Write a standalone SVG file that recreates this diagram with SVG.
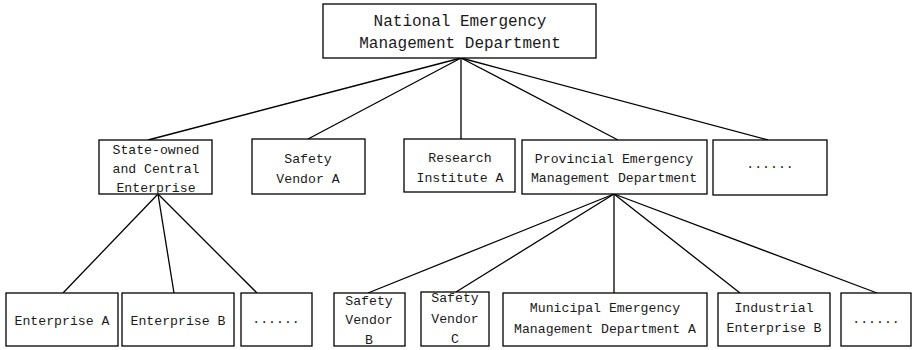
<svg xmlns="http://www.w3.org/2000/svg" width="912" height="350" viewBox="0 0 912 350">
  <style>
    .box { fill: #ffffff; stroke: #000000; stroke-width: 1.3; }
    .lbl { font-family: "Liberation Mono", "DejaVu Sans Mono", monospace; font-size: 13.2px; fill: #1a1a1a; text-anchor: middle; }
    .big { font-size: 16px; }
    .edge { stroke: #000000; stroke-width: 1.3; fill: none; }
  </style>

  <!-- tree connectors -->
  <g id="connectors">
    <line class="edge" x1="461" y1="58" x2="148" y2="140"/>
    <line class="edge" x1="461" y1="58" x2="308" y2="139"/>
    <line class="edge" x1="461" y1="58" x2="461" y2="139"/>
    <line class="edge" x1="461" y1="58" x2="618" y2="140"/>
    <line class="edge" x1="461" y1="58" x2="768" y2="140"/>

    <line class="edge" x1="158" y1="194" x2="63" y2="293"/>
    <line class="edge" x1="158" y1="194" x2="174" y2="293"/>
    <line class="edge" x1="158" y1="194" x2="257" y2="293"/>

    <line class="edge" x1="614" y1="194" x2="368" y2="293"/>
    <line class="edge" x1="614" y1="194" x2="456" y2="292"/>
    <line class="edge" x1="614" y1="194" x2="614" y2="293"/>
    <line class="edge" x1="614" y1="194" x2="740" y2="293"/>
    <line class="edge" x1="614" y1="194" x2="877" y2="293"/>
  </g>

  <g id="national">
    <rect class="box" x="323" y="4" width="273" height="54"/>
    <text class="lbl big" x="460" y="26">National Emergency</text>
    <text class="lbl big" x="460" y="48">Management Department</text>
  </g>

  <g id="state-owned">
    <rect class="box" x="99" y="140" width="113" height="54"/>
    <text class="lbl" x="156" y="154">State-owned</text>
    <text class="lbl" x="156" y="173">and Central</text>
    <text class="lbl" x="156" y="192">Enterprise</text>
  </g>

  <g id="safety-vendor-a">
    <rect class="box" x="252" y="139" width="113" height="55"/>
    <text class="lbl" x="308" y="163">Safety</text>
    <text class="lbl" x="308" y="183">Vendor A</text>
  </g>

  <g id="research-institute-a">
    <rect class="box" x="404" y="139" width="111" height="53"/>
    <text class="lbl" x="460" y="162">Research</text>
    <text class="lbl" x="460" y="182">Institute A</text>
  </g>

  <g id="provincial">
    <rect class="box" x="522" y="140" width="185" height="54"/>
    <text class="lbl" x="614" y="163">Provincial Emergency</text>
    <text class="lbl" x="614" y="182">Management Department</text>
  </g>

  <g id="more-level2">
    <rect class="box" x="713" y="140" width="114" height="55"/>
    <text class="lbl" x="770" y="168">......</text>
  </g>

  <g id="enterprise-a">
    <rect class="box" x="6" y="293" width="112" height="53"/>
    <text class="lbl" x="62" y="325">Enterprise A</text>
  </g>

  <g id="enterprise-b">
    <rect class="box" x="122" y="293" width="112" height="53"/>
    <text class="lbl" x="178" y="325">Enterprise B</text>
  </g>

  <g id="more-enterprises">
    <rect class="box" x="241" y="293" width="71" height="53"/>
    <text class="lbl" x="276" y="323">......</text>
  </g>

  <g id="safety-vendor-b">
    <rect class="box" x="334" y="293" width="71" height="53"/>
    <text class="lbl" x="369" y="305">Safety</text>
    <text class="lbl" x="369" y="324">Vendor</text>
    <text class="lbl" x="369" y="344">B</text>
  </g>

  <g id="safety-vendor-c">
    <rect class="box" x="421" y="292" width="68" height="54"/>
    <text class="lbl" x="455" y="302">Safety</text>
    <text class="lbl" x="455" y="323">Vendor</text>
    <text class="lbl" x="455" y="343">C</text>
  </g>

  <g id="municipal-a">
    <rect class="box" x="503" y="293" width="204" height="53"/>
    <text class="lbl" x="605" y="312">Municipal Emergency</text>
    <text class="lbl" x="605" y="333">Management Department A</text>
  </g>

  <g id="industrial-b">
    <rect class="box" x="718" y="293" width="112" height="53"/>
    <text class="lbl" x="774" y="312">Industrial</text>
    <text class="lbl" x="774" y="332">Enterprise B</text>
  </g>

  <g id="more-level3">
    <rect class="box" x="841" y="293" width="70" height="53"/>
    <text class="lbl" x="876" y="323">......</text>
  </g>
</svg>
